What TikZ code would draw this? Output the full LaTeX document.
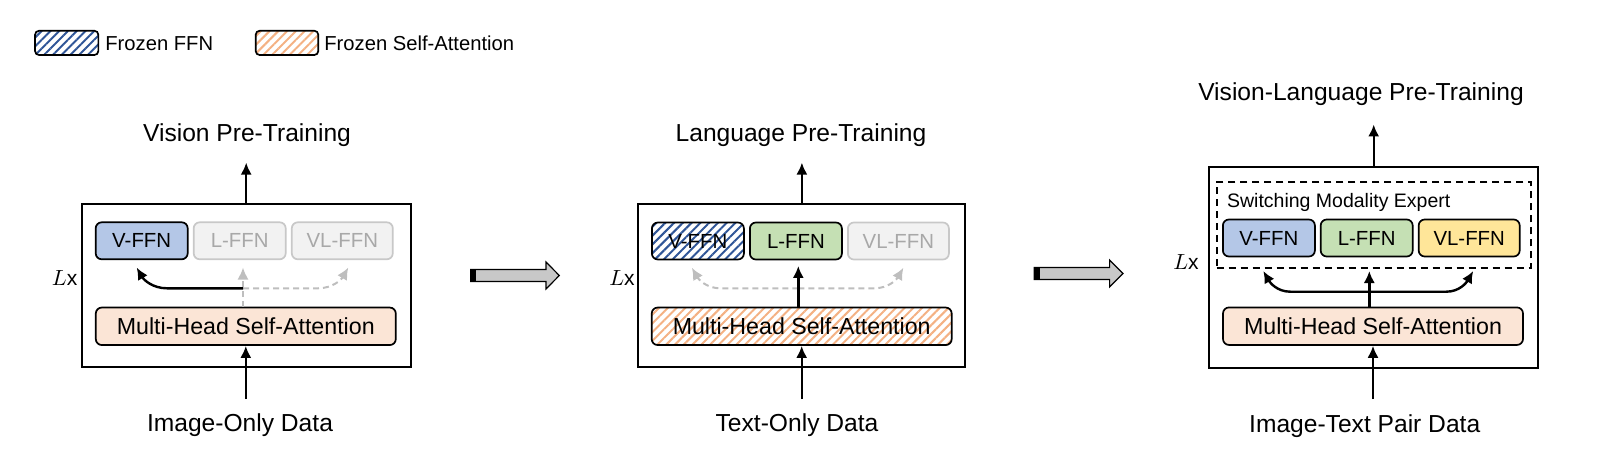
\documentclass[tikz,border=0pt]{standalone}
\usepackage{fontspec}
\setmainfont{Liberation Sans}
\usepackage{xcolor}
\definecolor{vmblue}{RGB}{180,199,231}
\definecolor{vmgreen}{RGB}{197,224,180}
\definecolor{vmgold}{RGB}{255,230,153}
\definecolor{vmpeach}{RGB}{251,229,214}
\definecolor{vmoff}{RGB}{242,242,242}
\definecolor{vmoffline}{RGB}{200,200,200}
\definecolor{vmofftext}{RGB}{168,168,168}
\definecolor{vmhatchblue}{RGB}{47,85,151}
\definecolor{vmhatchorange}{RGB}{244,177,131}
\definecolor{vmdash}{RGB}{190,190,190}
\definecolor{vmbig}{RGB}{200,200,200}
\usepackage{tikz}
\usetikzlibrary{arrows.meta, patterns.meta, calc}

\tikzset{
  ffn/.style={draw, rounded corners=3pt, line width=0.85pt, minimum width=46pt,
              minimum height=18.5pt, inner sep=0pt, font=\fontsize{10.2}{12}\selectfont},
  wideffn/.style={ffn, minimum width=50.5pt},
  offffn/.style={draw=vmoffline, fill=vmoff, text=vmofftext},
  frozenffn/.style={pattern={Lines[angle=45,distance=3.1pt,line width=1pt]},
                    pattern color=vmhatchblue},
  attn/.style={draw, rounded corners=3pt, line width=0.85pt, minimum width=150pt,
               minimum height=18.75pt, inner sep=0pt, font=\fontsize{11.6}{13}\selectfont},
  frozenattn/.style={pattern={Lines[angle=45,distance=3.1pt,line width=1pt]},
                     pattern color=vmhatchorange},
  layer/.style={draw, line width=1pt, inner sep=0pt},
  caption/.style={inner sep=0pt, font=\fontsize{12.3}{14}\selectfont},
  keytext/.style={inner sep=0pt, anchor=west, font=\fontsize{10.1}{12}\selectfont},
  repeat/.style={inner sep=0pt, font=\fontsize{10.5}{12}\selectfont},
  arr/.style={-{Latex[length=6pt,width=5.6pt]}, line width=1.2pt},
  offarr/.style={arr, draw=vmdash, dash pattern=on 3pt off 2pt, line width=1pt},
  bigarrow/.style={draw, fill=vmbig, line width=0.6pt}
}

\begin{document}
\begin{tikzpicture}[x=0.5pt, y=-0.5pt]
  \useasboundingbox (0,0) rectangle (1597,476);

  % legend
  \node[draw, rounded corners=2pt, line width=0.85pt, minimum width=31.65pt,
        minimum height=12.15pt, frozenffn] (keyffn) at (66.7,42.9) {};
  \node[keytext] (keyffntext) at (105,43.3) {Frozen FFN};
  \node[draw, rounded corners=2pt, line width=0.85pt, minimum width=31.3pt,
        minimum height=12.15pt, frozenattn] (keyattn) at (287,42.9) {};
  \node[keytext] (keyattntext) at (324,43.3) {Frozen Self-Attention};

  % stage 1: vision
  \node[layer, minimum width=164.5pt, minimum height=81.5pt] (box1) at (246.2,285.8) {};
  \node[ffn, fill=vmblue] (vffn1) at (141.7,240.8) {V-FFN};
  \node[ffn, offffn] (lffn1) at (239.7,240.8) {L-FFN};
  \node[wideffn, offffn] (vlffn1) at (342.3,240.8) {VL-FFN};
  \node[attn, fill=vmpeach] (mhsa1) at (245.8,326.3) {Multi-Head Self-Attention};
  \node[caption] (task1) at (247,135.5) {Vision Pre-Training};
  \node[caption] (data1) at (240,425.5) {Image-Only Data};
  \node[repeat] (rep1) at (64.7,278) {$L\mathrm{x}$};
  \coordinate (j1) at (243,288.3);
  \draw[arr, shorten >=7.6pt] (box1.north) -- (box1.north |- task1.south);
  \draw[arr, shorten <=7.2pt] (mhsa1.south |- data1.north) -- (mhsa1.south);
  \draw[offarr, shorten >=3.7pt] (mhsa1.north -| j1) -- (lffn1.south -| j1);
  \draw[offarr] (j1) -- ++(75,0) to[out=0, in=-120] ([xshift=3pt, yshift=-3.7pt]vlffn1.south);
  \draw[arr] (j1) -- ++(-76,0) to[out=180, in=-60] ([xshift=-2.5pt, yshift=-3.7pt]vffn1.south);

  \draw[bigarrow] (470.7,269.5) -- (546,269.5) -- (546,262) -- (559.3,275.5)
    -- (546,289) -- (546,281.5) -- (470.7,281.5) -- cycle;
  \fill (470.7,269.5) rectangle (476,281.5);

  % stage 2: language
  \node[layer, minimum width=163.5pt, minimum height=81.5pt] (box2) at (801.9,285.8) {};
  \node[ffn, frozenffn] (vffn2) at (697.9,241) {V-FFN};
  \node[ffn, fill=vmgreen] (lffn2) at (795.9,241) {L-FFN};
  \node[wideffn, offffn] (vlffn2) at (898.4,241) {VL-FFN};
  \node[attn, frozenattn] (mhsa2) at (801.7,326.3) {Multi-Head Self-Attention};
  \node[caption] (task2) at (801,135.5) {Language Pre-Training};
  \node[caption] (data2) at (797,425.5) {Text-Only Data};
  \node[repeat] (rep2) at (622,278) {$L\mathrm{x}$};
  \coordinate (j2) at (798.3,288.3);
  \draw[arr, shorten >=7.6pt] (box2.north) -- (box2.north |- task2.south);
  \draw[arr, shorten <=7.2pt] (mhsa2.south |- data2.north) -- (mhsa2.south);
  \draw[offarr] (j2) -- ++(-78,0) to[out=180, in=-60] ([xshift=-3pt, yshift=-3.7pt]vffn2.south);
  \draw[offarr] (j2) -- ++(76,0) to[out=0, in=-120] ([xshift=2.5pt, yshift=-3.7pt]vlffn2.south);
  \draw[arr, shorten >=2.8pt] (mhsa2.north -| j2) -- (lffn2.south -| j2);

  \draw[bigarrow] (1034.3,267.5) -- (1109.6,267.5) -- (1109.6,260) -- (1122.9,273.5)
    -- (1109.6,287) -- (1109.6,279.5) -- (1034.3,279.5) -- cycle;
  \fill (1034.3,267.5) rectangle (1039.6,279.5);

  % stage 3: vision-language
  \node[layer, minimum width=164.65pt, minimum height=100.8pt] (box3) at (1373.7,267.5) {};
  \node[draw, dash pattern=on 3.5pt off 2.5pt, line width=1pt, inner sep=0pt,
        minimum width=157pt, minimum height=43.3pt] (sme) at (1373.7,225) {};
  \node[inner sep=0pt, anchor=west, font=\fontsize{9.75}{11}\selectfont] (smetext)
        at (1226.7,202) {Switching Modality Expert};
  \node[ffn, fill=vmblue] (vffn3) at (1268.9,238) {V-FFN};
  \node[ffn, fill=vmgreen] (lffn3) at (1366.7,238) {L-FFN};
  \node[wideffn, fill=vmgold] (vlffn3) at (1469.2,238) {VL-FFN};
  \node[attn, fill=vmpeach] (mhsa3) at (1373,326.2) {Multi-Head Self-Attention};
  \node[caption] (task3) at (1361,94) {Vision-Language Pre-Training};
  \node[caption] (data3) at (1364.7,426) {Image-Text Pair Data};
  \node[repeat] (rep3) at (1186,261.7) {$L\mathrm{x}$};
  \coordinate (j3) at (1369.3,291.7);
  \draw[arr, shorten >=9.3pt] (box3.north) -- (box3.north |- task3.south);
  \draw[arr, shorten <=7.5pt] (mhsa3.south |- data3.north) -- (mhsa3.south);
  \draw[arr, shorten >=0.85pt] (mhsa3.north -| j3) -- (sme.south -| j3);
  \draw[arr] (j3) -- ++(-79,0) to[out=180, in=-60] ([xshift=-2.8pt, yshift=-0.85pt]sme.south -| vffn3.south);
  \draw[arr] (j3) -- ++(77,0) to[out=0, in=-120] ([xshift=2pt, yshift=-0.85pt]sme.south -| vlffn3.south);
\end{tikzpicture}
\end{document}
